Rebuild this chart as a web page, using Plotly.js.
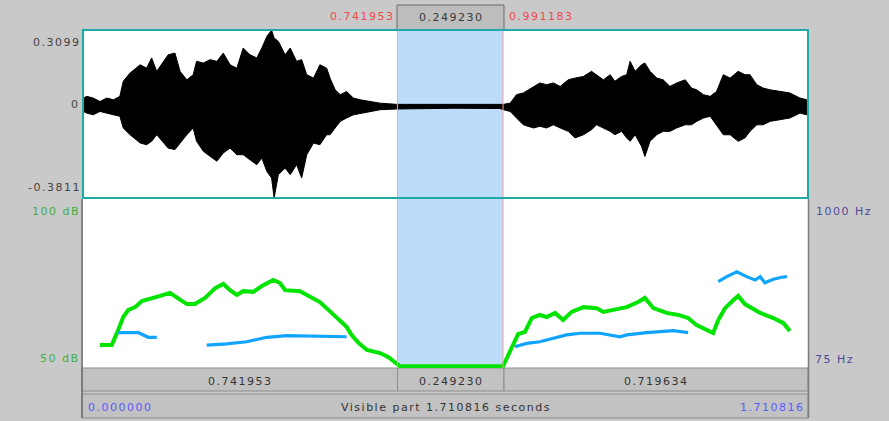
<!DOCTYPE html>
<html><head><meta charset="utf-8">
<script src="https://cdn.plot.ly/plotly-3.0.1.min.js"></script>
<style>
html,body{margin:0;padding:0;background:#c9c9c9;}
#chart{width:889px;height:421px;}
.annotation-text{letter-spacing:1.5px;}
</style></head><body><div id="chart"></div><script>
// ---- data ----
const totalDuration = 1.710816;
const selStart = 0.741953;
const selEnd = 0.991183;
const waveLimits = [-0.3811, 0.3099];
const dbLimits = [50, 100];
const hzLimits = [75, 1000];

const waveTime = [0.001,0.009,0.024,0.040,0.056,0.072,0.087,0.095,0.111,0.135,0.150,0.162,0.174,0.190,0.201,0.217,0.229,0.245,0.260,0.268,0.284,0.300,0.316,0.331,0.347,0.363,0.378,0.394,0.410,0.422,0.434,0.445,0.451,0.461,0.477,0.489,0.504,0.516,0.528,0.544,0.559,0.575,0.583,0.595,0.607,0.622,0.638,0.654,0.677,0.701,0.740,0.795,0.874,0.984,0.992,1.008,1.023,1.039,1.063,1.078,1.094,1.110,1.126,1.145,1.161,1.181,1.200,1.212,1.228,1.244,1.255,1.271,1.283,1.291,1.303,1.318,1.326,1.338,1.354,1.369,1.385,1.401,1.421,1.436,1.448,1.464,1.480,1.495,1.511,1.527,1.546,1.562,1.574,1.590,1.605,1.621,1.645,1.668,1.692,1.708];
const waveMax = [0.030,0.037,0.030,0.016,0.030,0.023,0.037,0.099,0.133,0.167,0.153,0.195,0.140,0.181,0.208,0.215,0.140,0.105,0.126,0.181,0.174,0.188,0.181,0.215,0.167,0.153,0.236,0.208,0.195,0.236,0.284,0.309,0.277,0.263,0.208,0.236,0.181,0.188,0.126,0.112,0.167,0.153,0.112,0.064,0.044,0.057,0.030,0.023,0.016,0.009,0.004,0.004,0.004,0.005,0.004,0.009,0.044,0.051,0.078,0.092,0.085,0.092,0.078,0.105,0.112,0.119,0.140,0.126,0.105,0.126,0.099,0.119,0.126,0.181,0.140,0.167,0.174,0.140,0.112,0.105,0.078,0.092,0.105,0.071,0.064,0.044,0.037,0.057,0.126,0.112,0.140,0.126,0.126,0.085,0.071,0.064,0.057,0.051,0.030,0.023];
const waveMin = [-0.025,-0.032,-0.039,-0.025,-0.032,-0.039,-0.045,-0.093,-0.121,-0.155,-0.162,-0.148,-0.121,-0.155,-0.176,-0.182,-0.155,-0.121,-0.093,-0.148,-0.189,-0.210,-0.230,-0.196,-0.176,-0.203,-0.203,-0.224,-0.244,-0.217,-0.272,-0.299,-0.381,-0.285,-0.258,-0.285,-0.244,-0.299,-0.203,-0.155,-0.162,-0.121,-0.121,-0.093,-0.066,-0.052,-0.039,-0.032,-0.025,-0.018,-0.015,-0.012,-0.012,-0.013,-0.018,-0.025,-0.052,-0.080,-0.093,-0.086,-0.093,-0.080,-0.093,-0.107,-0.134,-0.121,-0.100,-0.080,-0.093,-0.107,-0.121,-0.107,-0.134,-0.148,-0.121,-0.169,-0.210,-0.148,-0.121,-0.107,-0.107,-0.093,-0.080,-0.080,-0.066,-0.052,-0.045,-0.080,-0.121,-0.121,-0.148,-0.134,-0.107,-0.080,-0.080,-0.066,-0.059,-0.052,-0.032,-0.039];

const intensityTime = [0.040,0.068,0.083,0.095,0.107,0.123,0.139,0.158,0.182,0.205,0.225,0.245,0.264,0.288,0.312,0.331,0.347,0.363,0.378,0.402,0.422,0.449,0.465,0.477,0.512,0.536,0.559,0.579,0.599,0.622,0.634,0.650,0.670,0.701,0.721,0.736,0.744,0.748,0.991,1.012,1.027,1.043,1.059,1.078,1.094,1.114,1.133,1.153,1.181,1.212,1.228,1.251,1.283,1.310,1.326,1.346,1.377,1.405,1.428,1.448,1.472,1.487,1.499,1.515,1.535,1.546,1.562,1.574,1.598,1.629,1.653,1.668];
const intensityDb = [56.8,56.8,61.2,65.0,67.1,67.9,69.7,70.3,71.2,72.1,70.6,68.8,68.8,70.6,73.5,74.7,72.9,71.5,72.6,72.4,74.1,75.9,75.0,72.9,72.6,70.9,69.4,67.1,64.7,62.1,59.7,57.4,55.3,54.4,53.2,51.5,50.8,50.5,50.5,56.2,60.0,60.6,64.7,65.6,65.0,66.2,64.1,66.5,67.9,67.6,66.5,67.1,67.9,69.4,70.6,67.6,66.2,65.6,64.7,62.6,61.2,60.3,64.1,67.6,70.0,71.2,68.8,67.9,66.2,64.7,63.2,60.9];

const pitchTime = [0.083,0.131,0.154,0.174,null,0.292,0.339,0.386,0.434,0.481,0.528,0.575,0.622,null,1.019,1.047,1.078,1.110,1.141,1.173,1.220,1.267,1.283,1.330,1.377,1.393,1.428,null,1.499,1.519,1.543,1.566,1.586,1.598,1.609,1.629,1.649,1.661];
const pitchHz = [267,267,242,242,null,200,206,218,242,251,249,245,245,null,191,209,218,237,255,264,264,245,255,267,273,278,267,null,545,572,599,572,554,572,539,558,569,572];

const waveTickLabels = ['0.3099', '0', '-0.3811'];
const dbTickLabels = ['100 dB', '50 dB'];
const hzTickLabels = ['1000 Hz', '75 Hz'];
const topLabels = ['0.741953', '0.249230', '0.991183'];
const segmentLabels = ['0.741953', '0.249230', '0.719634'];
const bottomLabels = ['0.000000', 'Visible part 1.710816 seconds', '1.710816'];

// ---- layout helpers (pixel -> paper) ----
const W = 889, H = 421;
const X = p => p / W;
const Y = p => 1 - p / H;
const FONT = 'DejaVu Sans';

function ann(text, x, y, xanchor, color) {
  return {text: text, x: X(x), y: Y(y), xref: 'paper', yref: 'paper', xanchor: xanchor, yanchor: 'middle',
          showarrow: false, font: {family: FONT, size: 11, color: color}};
}
function box(x0, x1, y0, y1, fill, line) {
  return {type: 'rect', xref: 'paper', yref: 'paper', x0: X(x0), x1: X(x1), y0: Y(y1), y1: Y(y0),
          fillcolor: fill, line: {color: line, width: 1}, layer: 'below'};
}

const polyX = waveTime.concat(waveTime.slice().reverse());
const polyY = waveMax.concat(waveMin.slice().reverse());

const traces = [
  {type: 'scatter', mode: 'lines', x: polyX, y: polyY, xaxis: 'x', yaxis: 'y', fill: 'toself',
   fillcolor: '#000000', line: {color: '#000000', width: 1}, hoverinfo: 'skip', showlegend: false},
  {type: 'scatter', mode: 'lines', x: pitchTime, y: pitchHz, xaxis: 'x2', yaxis: 'y3',
   line: {color: '#10a4ff', width: 3.2}, connectgaps: false, hoverinfo: 'skip', showlegend: false},
  {type: 'scatter', mode: 'lines', x: intensityTime, y: intensityDb, xaxis: 'x2', yaxis: 'y2',
   line: {color: '#00e400', width: 4}, hoverinfo: 'skip', showlegend: false}
];

const xdom = [X(83), X(808)];
const shapes = [
  // top selection box
  box(397, 504, 5, 30, '#bdbdbd', '#6a6a6a'),
  // bottom segment boxes
  box(82, 397.5, 368, 391, '#c2c2c2', '#8c8c8c'),
  box(397.5, 504, 368, 391, '#c2c2c2', '#8c8c8c'),
  box(504, 808, 368, 391, '#c2c2c2', '#8c8c8c'),
  box(82, 808, 394, 418, '#c2c2c2', '#8c8c8c'),
  // selection fill
  {type: 'rect', xref: 'x', yref: 'paper', x0: selStart, x1: selEnd, y0: Y(368), y1: Y(30),
   fillcolor: '#bcdcfa', line: {width: 0}, layer: 'below'},
  // selection edges
  {type: 'line', xref: 'x', yref: 'paper', x0: selStart, x1: selStart, y0: Y(368), y1: Y(30),
   line: {color: '#ff9c9c', width: 1}, layer: 'above'},
  {type: 'line', xref: 'x', yref: 'paper', x0: selEnd, x1: selEnd, y0: Y(368), y1: Y(30),
   line: {color: '#ff9c9c', width: 1}, layer: 'above'},
  // waveform panel border
  {type: 'rect', xref: 'paper', yref: 'paper', x0: X(83), x1: X(808), y0: Y(198), y1: Y(30),
   line: {color: '#1fa9a9', width: 2}, fillcolor: 'rgba(0,0,0,0)', layer: 'above'},
  // lower panel side borders
  {type: 'line', xref: 'paper', yref: 'paper', x0: X(82), x1: X(82), y0: Y(418), y1: Y(199),
   line: {color: '#6e6e6e', width: 1.5}, layer: 'above'},
  {type: 'line', xref: 'paper', yref: 'paper', x0: X(808.5), x1: X(808.5), y0: Y(418), y1: Y(199),
   line: {color: '#7a7a7a', width: 1.5}, layer: 'above'}
];

const annotations = [
  ann(waveTickLabels[0], 83, 42, 'right', '#444444'),
  ann(waveTickLabels[1], 82, 105, 'right', '#444444'),
  ann(waveTickLabels[2], 83, 188, 'right', '#444444'),
  ann(dbTickLabels[0], 82, 211, 'right', '#3fae3f'),
  ann(dbTickLabels[1], 82, 358, 'right', '#3fae3f'),
  ann(hzTickLabels[0], 814, 211, 'left', '#4a4a9a'),
  ann(hzTickLabels[1], 813, 359, 'left', '#4a4a9a'),
  ann(topLabels[0], 397, 16, 'right', '#f04a4a'),
  ann(topLabels[1], 451, 17, 'center', '#3a3a3a'),
  ann(topLabels[2], 507, 16, 'left', '#f04a4a'),
  ann(segmentLabels[0], 240, 381, 'center', '#333333'),
  ann(segmentLabels[1], 451, 381, 'center', '#333333'),
  ann(segmentLabels[2], 656, 381, 'center', '#333333'),
  ann(bottomLabels[0], 86, 407, 'left', '#5a5aff'),
  ann(bottomLabels[1], 446, 407, 'center', '#333333'),
  ann(bottomLabels[2], 807, 407, 'right', '#5a5aff')
];

const ax = {visible: false, showgrid: false, zeroline: false, fixedrange: true};
const layout = {
  width: W, height: H, autosize: false,
  margin: {l: 0, r: 0, t: 0, b: 0, pad: 0},
  paper_bgcolor: '#c9c9c9', plot_bgcolor: '#ffffff',
  showlegend: false,
  xaxis: Object.assign({}, ax, {domain: xdom, range: [0, totalDuration], anchor: 'y'}),
  yaxis: Object.assign({}, ax, {domain: [Y(198), Y(30)], range: waveLimits, anchor: 'x'}),
  xaxis2: Object.assign({}, ax, {domain: xdom, range: [0, totalDuration], anchor: 'y2'}),
  yaxis2: Object.assign({}, ax, {domain: [Y(368), Y(198)], range: dbLimits, anchor: 'x2'}),
  yaxis3: Object.assign({}, ax, {range: hzLimits, anchor: 'x2', overlaying: 'y2', side: 'right'}),
  shapes: shapes,
  annotations: annotations
};

Plotly.newPlot('chart', traces, layout, {displayModeBar: false, staticPlot: true});
</script></body></html>
